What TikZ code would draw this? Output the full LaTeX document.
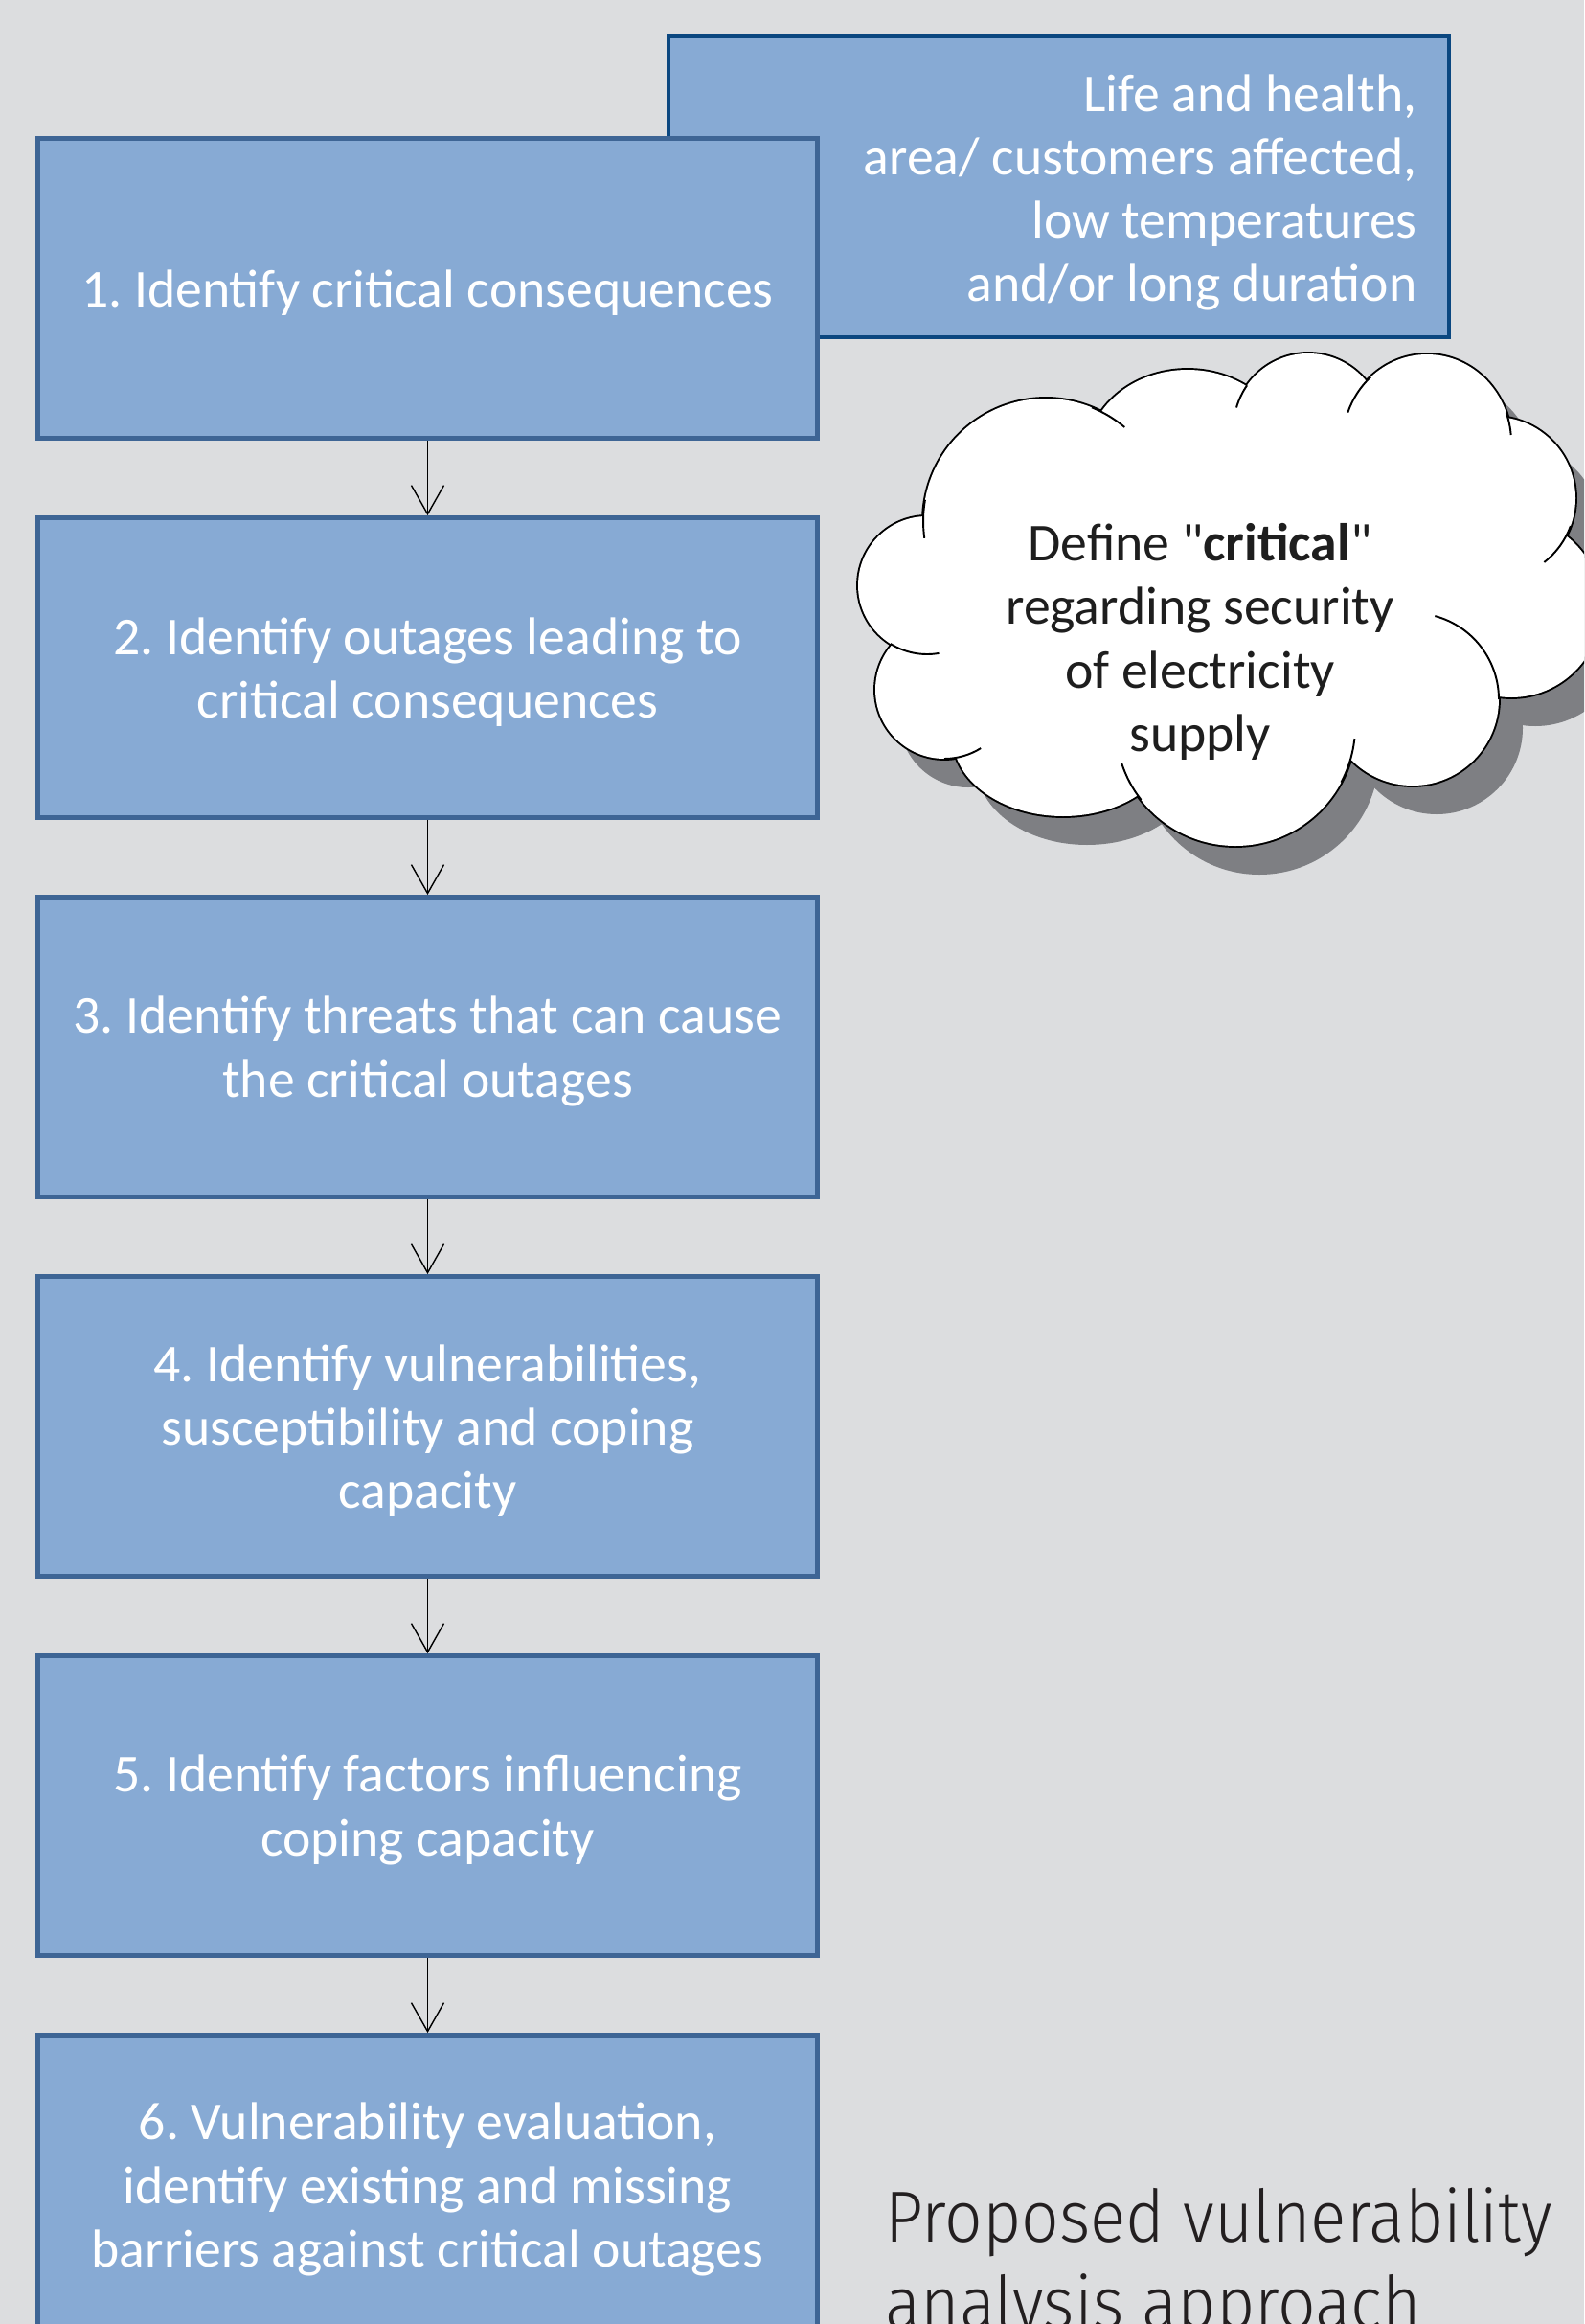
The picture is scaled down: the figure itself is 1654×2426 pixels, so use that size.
\documentclass[tikz,border=0pt]{standalone}
\usepackage{fontspec}
\setmainfont{Carlito}[Ligatures=TeXOff]
\newfontfamily\titlefont{Fira Sans Light}[FakeStretch=0.92]
\usetikzlibrary{arrows.meta}
\definecolor{bg}{HTML}{DCDDDF}
\definecolor{boxfill}{HTML}{87AAD4}
\definecolor{boxline}{HTML}{3E6595}
\definecolor{navyline}{HTML}{0B4780}
\definecolor{shadowgray}{HTML}{7E7F83}
\definecolor{titlegray}{HTML}{231F20}
\definecolor{cloudtextc}{HTML}{1E1E1E}
\newcommand\boxfont{\fontsize{31.7}{37.7}\selectfont\frenchspacing}
\newcommand\cloudcircles{(1092,544) circle[radius=128] (1240,476) ellipse[x radius=105,y radius=90] (1366,447) circle[radius=78] (1490,462) ellipse[x radius=88,y radius=92] (1560,520) circle[radius=85] (1578,634) circle[radius=94] (1475,730) circle[radius=90] (1290,758) circle[radius=125] (1110,770) ellipse[x radius=115,y radius=82] (986,720) circle[radius=72] (968,611) circle[radius=72]}
\newcommand\cloudcore{(1092,544) -- (1240,476) -- (1366,447) -- (1490,462) -- (1560,520) -- (1578,634) -- (1475,730) -- (1290,758) -- (1110,770) -- (986,720) -- (968,611) -- cycle}
\begin{document}
\begin{tikzpicture}[x=0.02cm, y=-0.02cm,
  stepbox/.style={draw=boxline, fill=boxfill, line width=2.83pt, minimum width=16.28cm, minimum height=6.26cm, inner sep=0pt},
  steptext/.style={inner sep=0pt, text=white, align=center, font=\boxfont},
  notebox/.style={draw=navyline, fill=boxfill, line width=2.27pt, minimum width=16.30cm, minimum height=6.28cm, inner sep=0pt},
  notetext/.style={anchor=east, inner sep=0pt, text=white, align=right, font=\boxfont},
  flow/.style={draw=black, line width=0.8pt, -{Straight Barb[length=0.6cm, width=0.68cm, line width=0.8pt]}},
  cloudline/.style={draw=black, line width=1.1pt},
  titletext/.style={anchor=base west, inner sep=0pt, text=titlegray, font=\titlefont\fontsize{43}{51}\selectfont}
]
\useasboundingbox (0,0) rectangle (1654,2426);
\clip (0,0) rectangle (1654,2426);
\fill[bg] (0,0) rectangle (1654,2426);

% note box (behind step 1)
\node[notebox] (note) at (1105.5,195) {};
\node[notetext] (notetxt) at (1480,201) {Life and health,\\area/ customers affected,\\low temperatures\\and/or long duration};

% steps
\node[stepbox] (s1) at (446.5,301) {};
\node[stepbox] (s2) at (446.5,697) {};
\node[stepbox] (s3) at (446.5,1093) {};
\node[stepbox] (s4) at (446.5,1489) {};
\node[stepbox] (s5) at (446.5,1885) {};
\node[stepbox] (s6) at (446.5,2281) {};
\node[steptext] (t1) at (446.5,305.5) {1. Identify critical consequences};
\node[steptext] (t2) at (446.5,701.5) {2. Identify outages leading to\\critical consequences};
\node[steptext] (t3) at (446.5,1097.5) {3. Identify threats that can cause\\the critical outages};
\node[steptext] (t4) at (446.5,1493.5) {4. Identify vulnerabilities,\\susceptibility and coping\\capacity};
\node[steptext] (t5) at (446.5,1889.5) {5. Identify factors influencing\\coping capacity};
\node[steptext] (t6) at (446.5,2285.5) {6. Vulnerability evaluation,\\identify existing and missing\\barriers against critical outages};

\draw[flow] (s1.south) -- (s2.north);
\draw[flow] (s2.south) -- (s3.north);
\draw[flow] (s3.south) -- (s4.north);
\draw[flow] (s4.south) -- (s5.north);
\draw[flow] (s5.south) -- (s6.north);

% cloud
\fill[shadowgray, shift={(25,30)}] \cloudcircles;
\fill[shadowgray, shift={(25,30)}] \cloudcore;
\draw[black, line width=2.2pt] \cloudcircles;
\fill[white] \cloudcircles;
\fill[white] \cloudcore;
\draw[cloudline] (1092,544) ++(190:128) arc[start angle=190, end angle=172, radius=128];
\draw[cloudline] (968,611) ++(122:72) arc[start angle=122, end angle=80, radius=72];
\draw[cloudline] (986,720) ++(90:72) arc[start angle=90, end angle=58, radius=72];
\draw[cloudline] (1290,758) ++(142:125) arc[start angle=142, end angle=162, radius=125];
\draw[cloudline] (1290,758) ++(28:125) arc[start angle=28, end angle=6, radius=125];
\draw[cloudline] (1475,730) ++(0:90) arc[start angle=0, end angle=-75, radius=90];
\draw[cloudline] (1560,520) ++(20:85) arc[start angle=20, end angle=52, radius=85];
\draw[cloudline] (1490,462) ++(-20:88 and 92) arc[start angle=-20, end angle=-5, x radius=88, y radius=92];
\draw[cloudline] (1490,462) ++(228:88 and 92) arc[start angle=228, end angle=200, x radius=88, y radius=92];
\draw[cloudline] (1366,447) ++(215:78) arc[start angle=215, end angle=196, radius=78];
\draw[cloudline] (1092,544) ++(-68:128) arc[start angle=-68, end angle=-50, radius=128];
\node[align=center, text=cloudtextc, font=\boxfont] (cloudtext) at (1253,670) {Define "\textbf{critical}"\\regarding security\\of electricity\\supply};

% title
\node[titletext] (title1) at (924,2340) {Proposed vulnerability};
\node[titletext] (title2) at (924,2430) {analysis approach};
\end{tikzpicture}
\end{document}
